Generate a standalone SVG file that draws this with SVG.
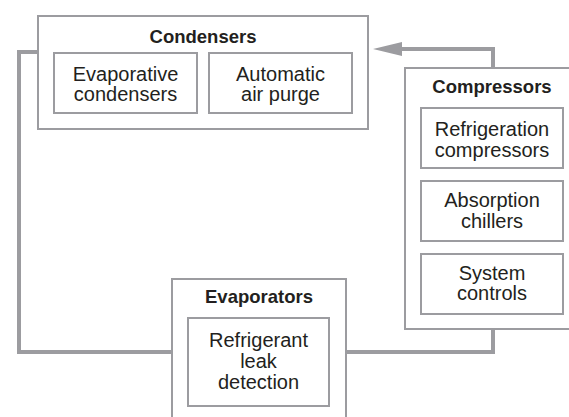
<svg xmlns="http://www.w3.org/2000/svg" width="569" height="417" viewBox="0 0 569 417">
<style>
  .box { fill: #ffffff; stroke: #9c9ca0; stroke-width: 2; }
  .conn { fill: none; stroke: #9c9ca0; stroke-width: 4; }
  .title { font-family: "Liberation Sans", Arial, sans-serif; font-weight: bold; font-size: 18.5px; fill: #231f20; text-anchor: middle; }
  .label { font-family: "Liberation Sans", Arial, sans-serif; font-size: 20px; fill: #231f20; text-anchor: middle; }
</style>
<defs>
  <marker id="arrow" markerUnits="userSpaceOnUse" markerWidth="30" markerHeight="16" refX="7" refY="8" orient="auto">
    <path d="M0,1 L29,8 L0,15 z" fill="#9c9ca0"/>
  </marker>
</defs>
<rect x="0" y="0" width="569" height="417" fill="#ffffff"/>
<g id="connectors">
  <path class="conn" d="M493,68 V49 H395" marker-end="url(#arrow)"/>
  <path class="conn" d="M38,52 H19 V352 H172"/>
  <path class="conn" d="M346,352 H493 V329"/>
</g>
<g id="condensers">
  <rect class="box" x="38" y="16" width="330" height="113"/>
  <text class="title" x="203" y="43">Condensers</text>
  <g id="evaporative-condensers">
    <rect class="box" x="54" y="53" width="143" height="60"/>
    <text class="label" x="125.5" y="81">Evaporative</text>
    <text class="label" x="125.5" y="101">condensers</text>
  </g>
  <g id="automatic-air-purge">
    <rect class="box" x="209" y="53" width="143" height="60"/>
    <text class="label" x="280.5" y="81">Automatic</text>
    <text class="label" x="280.5" y="101">air purge</text>
  </g>
</g>
<g id="compressors">
  <rect class="box" x="405" y="68" width="180" height="261"/>
  <text class="title" x="492" y="93">Compressors</text>
  <g id="refrigeration-compressors">
    <rect class="box" x="421" y="108" width="142" height="60"/>
    <text class="label" x="492" y="136">Refrigeration</text>
    <text class="label" x="492" y="157">compressors</text>
  </g>
  <g id="absorption-chillers">
    <rect class="box" x="421" y="181" width="142" height="60"/>
    <text class="label" x="492" y="207">Absorption</text>
    <text class="label" x="492" y="228">chillers</text>
  </g>
  <g id="system-controls">
    <rect class="box" x="421" y="254" width="142" height="60"/>
    <text class="label" x="492" y="280">System</text>
    <text class="label" x="492" y="300">controls</text>
  </g>
</g>
<g id="evaporators">
  <rect class="box" x="172" y="279" width="174" height="150"/>
  <text class="title" x="259" y="303">Evaporators</text>
  <g id="refrigerant-leak-detection">
    <rect class="box" x="188" y="318" width="141" height="88"/>
    <text class="label" x="258.5" y="347">Refrigerant</text>
    <text class="label" x="258.5" y="368">leak</text>
    <text class="label" x="258.5" y="389">detection</text>
  </g>
</g>
</svg>
